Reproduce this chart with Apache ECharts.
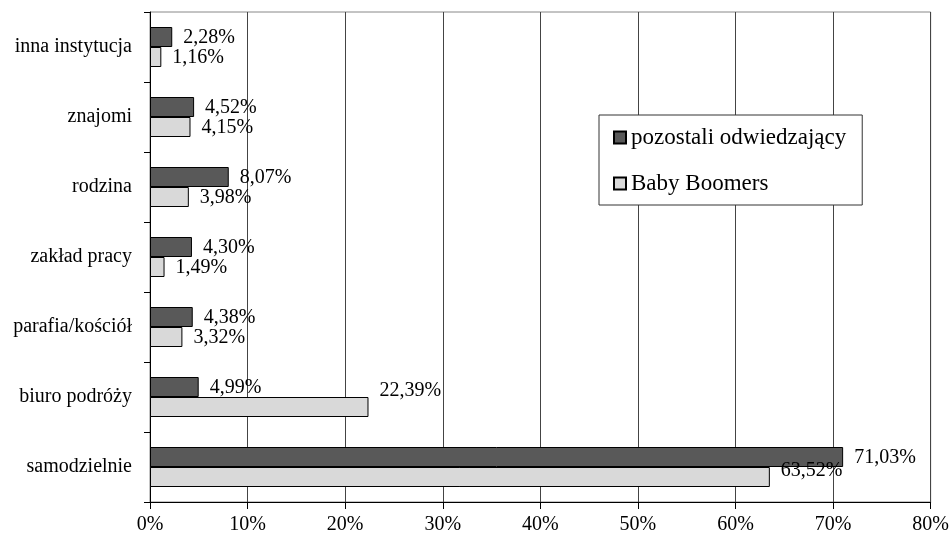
<!DOCTYPE html>
<html>
<head>
<meta charset="utf-8">
<script src="https://cdn.jsdelivr.net/npm/echarts@6/dist/echarts.min.js"></script>
<style>
html,body{margin:0;padding:0;background:#fff;}
#chart{width:952px;height:535px;}
</style>
</head>
<body>
<div id="chart"></div>
<script>
var categories = ['samodzielnie', 'biuro podróży', 'parafia/kościół', 'zakład pracy', 'rodzina', 'znajomi', 'inna instytucja'];
var pozostali = [71.03, 4.99, 4.38, 4.30, 8.07, 4.52, 2.28];
var babyBoomers = [63.52, 22.39, 3.32, 1.49, 3.98, 4.15, 1.16];
var seriesNames = ['pozostali odwiedzający', 'Baby Boomers'];
var xTicks = [0, 10, 20, 30, 40, 50, 60, 70, 80];

var FONT = 'Liberation Serif';
function fmt(v) { return v.toFixed(2).replace('.', ',') + '%'; }

var bbData = babyBoomers.map(function (v, i) {
  var item = { value: v };
  if (categories[i] === 'biuro podróży') item.label = { offset: [0, -16] };
  if (categories[i] === 'samodzielnie') item.label = { offset: [0, -6] };
  return item;
});

var labelStyle = {
  show: true, position: 'right', distance: 11, offset: [0, 1],
  fontFamily: FONT, fontSize: 20, color: '#000',
  formatter: function (p) { return fmt(p.value); }
};

var chart = echarts.init(document.getElementById('chart'), null, { renderer: 'canvas' });
chart.setOption({
  backgroundColor: '#fff',
  animation: false,
  grid: { left: 150, right: 21, top: 12, bottom: 32, show: true, borderColor: '#888', borderWidth: 1 },
  legend: {
    data: seriesNames,
    orient: 'vertical',
    left: 599, top: 115,
    padding: [11, 16, 10, 14],
    itemGap: 23,
    itemWidth: 12, itemHeight: 12,
    icon: 'rect',
    borderColor: '#333', borderWidth: 1,
    backgroundColor: '#fff',
    textStyle: { fontFamily: FONT, fontSize: 23, color: '#000' }
  },
  xAxis: {
    type: 'value', min: 0, max: 80, interval: 10,
    axisLine: { show: true, lineStyle: { color: '#000', width: 1 } },
    axisTick: { show: true, length: 7, lineStyle: { color: '#000' } },
    axisLabel: {
      margin: 13, fontFamily: FONT, fontSize: 20, color: '#000',
      formatter: function (v) { return xTicks.indexOf(v) >= 0 ? v + '%' : ''; }
    },
    splitLine: { show: true, lineStyle: { color: '#444', width: 1 } }
  },
  yAxis: {
    type: 'category', data: categories,
    axisLine: { show: true, lineStyle: { color: '#000', width: 1 } },
    axisTick: { show: true, length: 6, lineStyle: { color: '#000' } },
    axisLabel: { margin: 18, fontFamily: FONT, fontSize: 20, color: '#000' }
  },
  series: [
    {
      name: seriesNames[0], type: 'bar', data: pozostali,
      barWidth: 20, barGap: '0%',
      itemStyle: { color: '#595959', borderColor: '#000', borderWidth: 1 },
      label: labelStyle
    },
    {
      name: seriesNames[1], type: 'bar', data: bbData,
      barWidth: 20, barGap: '0%',
      itemStyle: { color: '#d9d9d9', borderColor: '#000', borderWidth: 1 },
      label: labelStyle
    }
  ]
});
</script>
</body>
</html>
